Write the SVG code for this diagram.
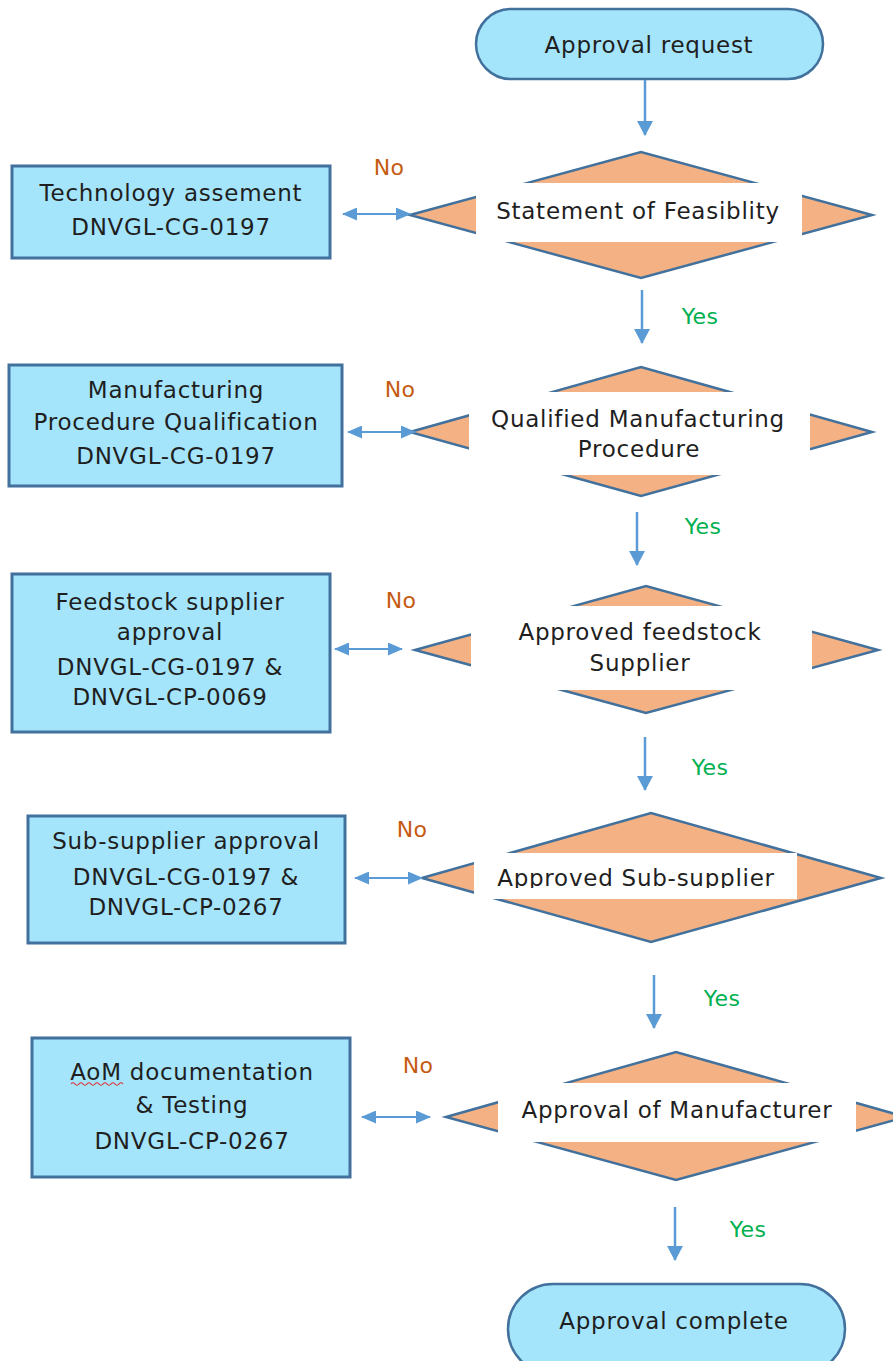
<svg xmlns="http://www.w3.org/2000/svg" width="893" height="1361" viewBox="0 0 893 1361">
<style>
text{font-family:"DejaVu Sans","Noto Sans",sans-serif;font-size:23px;letter-spacing:0.75px;fill:#1f1f1f;text-anchor:middle}
.box{fill:#A5E5FB;stroke:#41719C;stroke-width:3}
.term{fill:#A5E5FB;stroke:#41719C;stroke-width:2.5}
.dia{fill:#F4B183;stroke:#41719C;stroke-width:2.5;stroke-linejoin:miter}
.mask{fill:#fff}
.no{fill:#C55A11;font-size:22px;letter-spacing:0.3px}
.yes{fill:#00B050;font-size:22px;letter-spacing:0.3px}
.v{stroke:#5B9BD5;stroke-width:2.5;fill:none;marker-end:url(#ah)}
.h{stroke:#5B9BD5;stroke-width:2.2;fill:none;marker-start:url(#ah2);marker-end:url(#ah2)}
</style>
<defs>
<marker id="ah" viewBox="0 0 15 16" refX="14" refY="8" markerWidth="15" markerHeight="16" markerUnits="userSpaceOnUse" orient="auto"><path d="M0,0 L15,8 L0,16 z" fill="#5B9BD5"/></marker>
<marker id="ah2" viewBox="0 0 15 13" refX="14" refY="6.5" markerWidth="15" markerHeight="13" markerUnits="userSpaceOnUse" orient="auto-start-reverse"><path d="M0,0 L15,6.5 L0,13 z" fill="#5B9BD5"/></marker>
<clipPath id="clip4"><rect x="470" y="850" width="330" height="38"/></clipPath>
</defs>
<rect width="893" height="1361" fill="#fff"/>

<g id="start">
<rect class="term" x="476" y="9" width="347" height="70" rx="35"/>
<text x="649" y="53">Approval request</text>
</g>

<g id="d1">
<polygon class="dia" points="410,215 641,152 872,215 641,278"/>
<rect class="mask" x="476" y="183" width="326" height="59"/>
<text x="638" y="219">Statement of Feasiblity</text>
</g>

<g id="b1">
<rect class="box" x="12" y="166" width="318" height="92"/>
<text x="171" y="201">Technology assement</text>
<text x="171" y="235">DNVGL-CG-0197</text>
</g>

<g id="d2">
<polygon class="dia" points="410,432 641,367 872,432 641,496"/>
<rect class="mask" x="469" y="392" width="341" height="83"/>
<text x="638" y="427">Qualified Manufacturing</text>
<text x="639" y="457">Procedure</text>
</g>

<g id="b2">
<rect class="box" x="9" y="365" width="333" height="121"/>
<text x="176" y="398">Manufacturing</text>
<text x="176" y="430">Procedure Qualification</text>
<text x="176" y="464">DNVGL-CG-0197</text>
</g>

<g id="d3">
<polygon class="dia" points="415,650 646,586 878,650 646,713"/>
<rect class="mask" x="471" y="606" width="341" height="84"/>
<text x="640" y="640">Approved feedstock</text>
<text x="640" y="671">Supplier</text>
</g>

<g id="b3">
<rect class="box" x="12" y="574" width="318" height="158"/>
<text x="170" y="610">Feedstock supplier</text>
<text x="170" y="640">approval</text>
<text x="170" y="675">DNVGL-CG-0197 &amp;</text>
<text x="170" y="705">DNVGL-CP-0069</text>
</g>

<g id="d4">
<polygon class="dia" points="422,878 651,813 881,878 651,942"/>
<rect class="mask" x="474" y="853" width="323" height="46"/>
<text x="636" y="886" clip-path="url(#clip4)">Approved Sub-supplier</text>
</g>

<g id="b4">
<rect class="box" x="28" y="816" width="317" height="127"/>
<text x="186" y="849">Sub-supplier approval</text>
<text x="186" y="885">DNVGL-CG-0197 &amp;</text>
<text x="186" y="915">DNVGL-CP-0267</text>
</g>

<g id="d5">
<polygon class="dia" points="446,1117 676,1052 906,1117 676,1180"/>
<rect class="mask" x="498" y="1083" width="358" height="59"/>
<text x="677" y="1118">Approval of Manufacturer</text>
</g>

<g id="b5">
<rect class="box" x="32" y="1038" width="318" height="139"/>
<text x="192" y="1080">AoM documentation</text>
<text x="192" y="1113">&amp; Testing</text>
<text x="192" y="1149">DNVGL-CP-0267</text>
<path d="M71,1084 q2,-2.5 4,0 t4,0 t4,0 t4,0 t4,0 t4,0 t4,0 t4,0 t4,0 t4,0 t4,0 t4,0 t4,0" fill="none" stroke="#E03030" stroke-width="1.2"/>
</g>

<g id="end">
<rect class="term" x="508" y="1284" width="337" height="90" rx="45"/>
<text x="674" y="1329">Approval complete</text>
</g>

<g id="connectors">
<line class="v" x1="645" y1="80" x2="645" y2="135"/>
<line class="v" x1="642" y1="290" x2="642" y2="343"/>
<line class="v" x1="637" y1="512" x2="637" y2="565"/>
<line class="v" x1="645" y1="737" x2="645" y2="790"/>
<line class="v" x1="654" y1="975" x2="654" y2="1028"/>
<line class="v" x1="675" y1="1207" x2="675" y2="1260"/>
<line class="h" x1="343" y1="214" x2="410" y2="214"/>
<line class="h" x1="348" y1="432" x2="415" y2="432"/>
<line class="h" x1="335" y1="649" x2="402" y2="649"/>
<line class="h" x1="355" y1="878" x2="422" y2="878"/>
<line class="h" x1="362" y1="1117" x2="430" y2="1117"/>
</g>

<g id="labels">
<text class="no" x="389" y="175">No</text>
<text class="no" x="400" y="397">No</text>
<text class="no" x="401" y="608">No</text>
<text class="no" x="412" y="837">No</text>
<text class="no" x="418" y="1073">No</text>
<text class="yes" x="700" y="324">Yes</text>
<text class="yes" x="703" y="534">Yes</text>
<text class="yes" x="710" y="775">Yes</text>
<text class="yes" x="722" y="1006">Yes</text>
<text class="yes" x="748" y="1237">Yes</text>
</g>
</svg>
